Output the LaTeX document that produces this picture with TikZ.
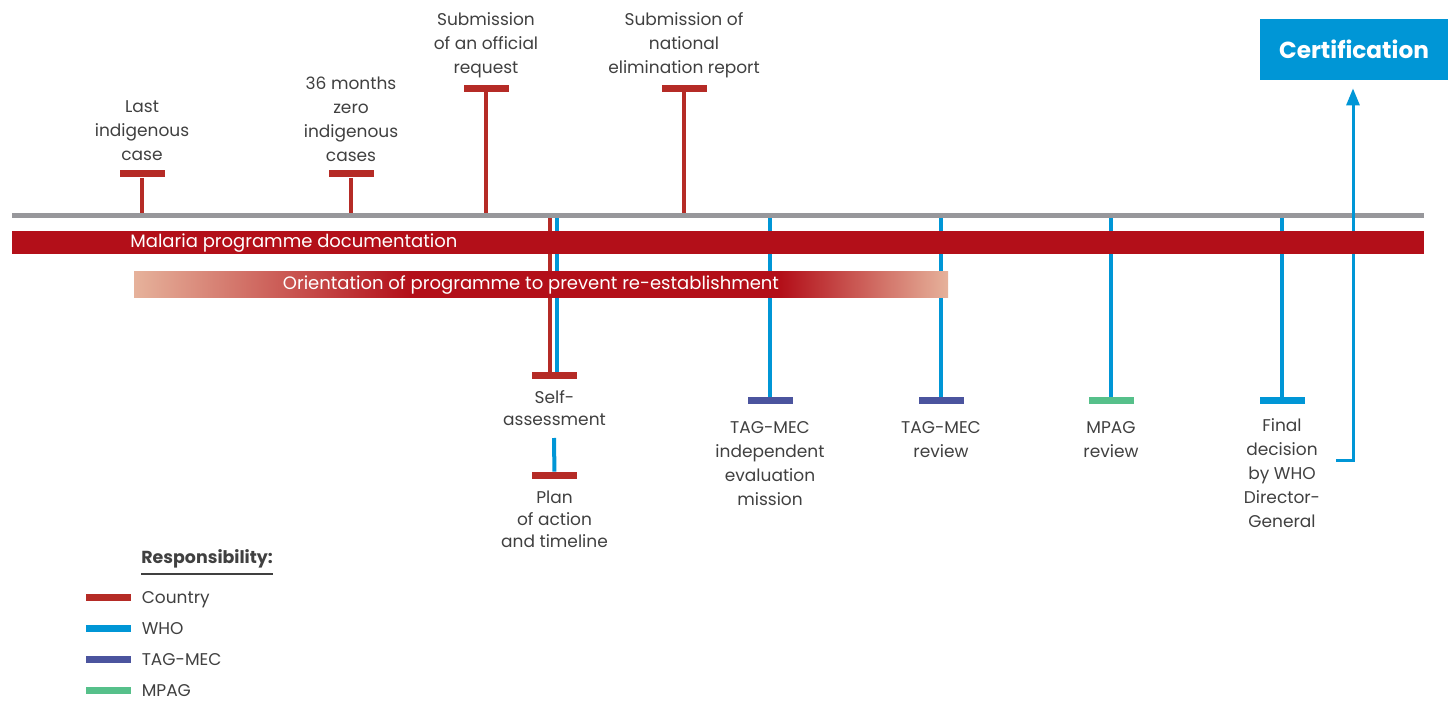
\documentclass[tikz,border=0pt]{standalone}
\usepackage{fontspec}
\setmainfont{Poppins}
\usetikzlibrary{positioning, arrows.meta}

\definecolor{countryred}{HTML}{B52B26}
\definecolor{docred}{HTML}{B30F19}
\definecolor{whoblue}{HTML}{0096D6}
\definecolor{tagpurple}{HTML}{4B549E}
\definecolor{mpaggreen}{HTML}{56C08A}
\definecolor{axisgray}{HTML}{97979B}
\definecolor{peach}{HTML}{E6B29B}
\definecolor{txtgray}{HTML}{404040}

\pgfdeclarehorizontalshading{orientfade}{100bp}{color(0bp)=(peach); color(25bp)=(peach); color(42bp)=(docred); color(64.7bp)=(docred); color(75bp)=(peach); color(100bp)=(peach)}

\tikzset{
	stemred/.style={draw=countryred, line width=2pt},
	stemblue/.style={draw=whoblue, line width=2pt},
	tcap/.style={minimum width=22.5pt, minimum height=3.5pt, inner sep=0pt},
	lbl/.style={align=center, inner sep=0pt, text=txtgray, text depth=0pt, font=\fontsize{8.5}{12}\selectfont},
	lblsmall/.style={lbl, font=\fontsize{8.5}{11}\selectfont},
	bartxt/.style={text=white, inner sep=0pt, font=\fontsize{9}{11}\selectfont},
	legtxt/.style={inner sep=0pt, text=txtgray, text height=6.2pt, text depth=0pt, font=\fontsize{8.5}{11}\selectfont},
	certbox/.style={fill=whoblue, text=white, minimum width=94pt, minimum height=30.5pt, inner sep=0pt, font=\fontsize{11.6}{13}\bfseries},
}

\begin{document}
\begin{tikzpicture}[x=0.5pt, y=-0.5pt]
	\useasboundingbox (0,0) rectangle (1448,701);

	% events above the line (country)
	\coordinate (lastbase) at (142,216);
	\coordinate (zerobase) at (351,216);
	\coordinate (requestbase) at (486,216);
	\coordinate (reportbase) at (684,216);
	\node[tcap, fill=countryred] (lastcap) at (142,174) {};
	\node[tcap, fill=countryred] (zerocap) at (351,174) {};
	\node[tcap, fill=countryred] (requestcap) at (486,88.5) {};
	\node[tcap, fill=countryred] (reportcap) at (684,88.5) {};
	\draw[stemred] (lastcap) -- (lastbase);
	\draw[stemred] (zerocap) -- (zerobase);
	\draw[stemred] (requestcap) -- (requestbase);
	\draw[stemred] (reportcap) -- (reportbase);
	\node[lbl, above=4.5pt of lastcap] (lasttxt) {Last\\indigenous\\case};
	\node[lbl, above=4pt of zerocap] (zerotxt) {36 months\\zero\\indigenous\\cases};
	\node[lbl, above=5.5pt of requestcap] (requesttxt) {Submission\\of an official\\request};
	\node[lbl, above=5.5pt of reportcap] (reporttxt) {Submission of\\national\\elimination report};

	% events below the line
	\coordinate (selfredbase) at (550,216);
	\coordinate (selfbluebase) at (557,216);
	\coordinate (missionbase) at (770,216);
	\coordinate (reviewbase) at (941,216);
	\coordinate (mpagbase) at (1111,216);
	\coordinate (finalbase) at (1282,216);
	\coordinate (planlink) at (554,438);
	\node[tcap, fill=countryred] (selfcap) at (554.5,375.5) {};
	\node[tcap, fill=countryred] (plancap) at (554.5,475.5) {};
	\node[tcap, fill=tagpurple] (missioncap) at (770,400.5) {};
	\node[tcap, fill=tagpurple] (reviewcap) at (941,400.5) {};
	\node[tcap, fill=mpaggreen] (mpagcap) at (1111,400.5) {};
	\node[tcap, fill=whoblue] (finalcap) at (1282,400.5) {};
	\draw[stemred] (selfredbase) -- (selfredbase |- selfcap.north);
	\draw[stemblue] (selfbluebase) -- (selfbluebase |- selfcap.north);
	\draw[stemblue] (planlink) -- (plancap);
	\draw[stemblue] (missionbase) -- (missioncap);
	\draw[stemblue] (reviewbase) -- (reviewcap);
	\draw[stemblue] (mpagbase) -- (mpagcap);
	\draw[stemblue] (finalbase) -- (finalcap);
	\node[lblsmall, below=5.5pt of selfcap] (selftxt) {Self-\\assessment};
	\node[lblsmall, below=5.5pt of plancap] (plantxt) {Plan\\of action\\and timeline};
	\node[lbl, below=8.5pt of missioncap] (missiontxt) {TAG-MEC\\independent\\evaluation\\mission};
	\node[lbl, below=8.5pt of reviewcap] (reviewtxt) {TAG-MEC\\review};
	\node[lbl, below=8.5pt of mpagcap] (mpagtxt) {MPAG\\review};
	\node[lbl, below=7pt of finalcap] (finaltxt) {Final\\decision\\by WHO\\Director-\\General};

	% timeline
	\draw[axisgray, line width=2.5pt] (12,216) -- (1424,216);

	% certification
	\node[certbox] (cert) at (1354,49.5) {Certification};
	\coordinate (finalout) at (1336,460);
	\draw[whoblue, line width=1.5pt, -{Triangle[width=6.5pt, length=8.5pt]}] (finalout) -| ([yshift=-4pt]cert.south -| 1353,0);

	% bars
	\fill[docred] (12,231) rectangle (1424,254);
	\node[bartxt, anchor=west] (doctxt) at (130,243) {Malaria programme documentation};
	\shade[shading=orientfade] (134,272) rectangle (948,298);
	\node[bartxt] (orienttxt) at (531,285) {Orientation of programme to prevent re-establishment};

	% legend
	\node[legtxt, anchor=base west, font=\fontsize{8.7}{11}\bfseries] (resp) at (141,563) {Responsibility:};
	\draw[txtgray, line width=0.7pt] ([yshift=-5.5pt]resp.base west) -- ([yshift=-5.5pt]resp.base east);
	\node[tcap, fill=countryred] (legcountry) at (108.5,597) {};
	\node[tcap, fill=whoblue] (legwho) at (108.5,628.5) {};
	\node[tcap, fill=tagpurple] (legtag) at (108.5,659.5) {};
	\node[tcap, fill=mpaggreen] (legmpag) at (108.5,690) {};
	\node[legtxt, right=5pt of legcountry] (legcountrytxt) {Country};
	\node[legtxt, right=5pt of legwho] (legwhotxt) {WHO};
	\node[legtxt, right=5pt of legtag] (legtagtxt) {TAG-MEC};
	\node[legtxt, right=5pt of legmpag] (legmpagtxt) {MPAG};
\end{tikzpicture}
\end{document}
